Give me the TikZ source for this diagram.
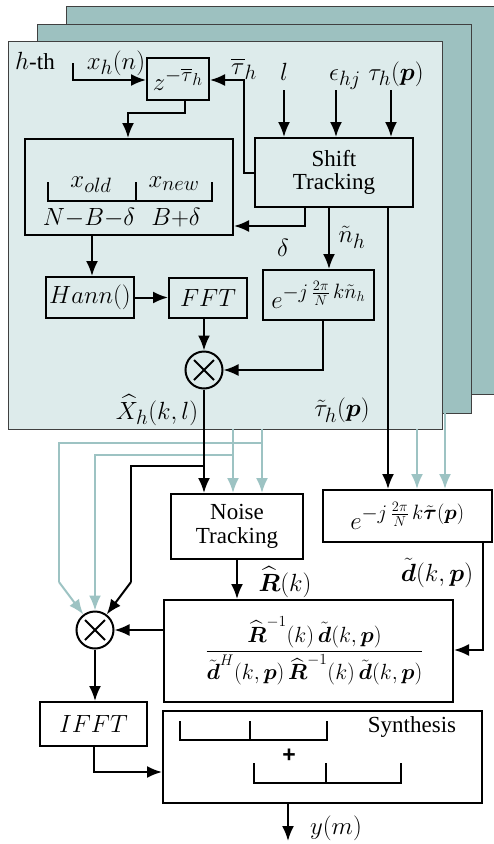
\RequirePackage{fix-cm}
\documentclass[tikz,border=0pt]{standalone}
\usepackage{amsmath,amssymb}
\usepackage[no-math]{fontspec}
\setmainfont{Liberation Serif}
\newfontfamily\plusfont{Liberation Sans}
\usetikzlibrary{arrows.meta,calc}
\definecolor{frontc}{HTML}{DDEBEB}
\definecolor{tealc}{HTML}{9DC1C0}
\definecolor{litec}{HTML}{9DC3C3}
\newcommand{\expo}[1]{\mbox{\fontsize{20.74}{21}\selectfont$#1$}}
\begin{document}
\begin{tikzpicture}[x=1pt,y=-1pt,
  font=\fontsize{24.88}{25}\selectfont,
  txt/.style={font=\fontsize{23}{23.5}\selectfont},
  blk/.style={draw, line width=2pt, inner sep=0pt, align=center},
  mult/.style={draw, circle, line width=2pt, minimum size=37pt, inner sep=0pt},
  arr/.style={line width=2pt, -{Latex[length=15pt,width=12pt]}},
  larr/.style={draw=litec, line width=2pt, -{Latex[length=15pt,width=12pt]}},
  ln/.style={line width=2pt},
  lln/.style={draw=litec, line width=2pt},
  panel/.style={draw=black!75, line width=1pt},
  lbl/.style={inner sep=0pt, anchor=base}]
\useasboundingbox (0,0) rectangle (494,844);
% panels
\draw[panel, fill=tealc] (66,6) rectangle (500,394);
\draw[panel, fill=tealc] (37,24) rectangle (471,413);
\draw[panel, fill=frontc] (8,41) rectangle (442,429);

% boxes
\node[blk, minimum width=62pt, minimum height=42pt] (z) at (178,79) {$z^{-\overline{\tau}_h}$};
\node[blk, minimum width=208pt, minimum height=96pt] (buf) at (129,187) {};
\node[blk, txt, minimum width=158pt, minimum height=69pt] (shift) at (334,172.5) {Shift\\Tracking};
\node[blk, minimum width=111pt, minimum height=50pt] (exp) at (318.5,295) {$e^{\expo{-j\,\frac{2\pi}{N}\,k\tilde{n}_h}}$};
\node[blk, minimum width=88pt, minimum height=41pt] (hann) at (90,297.5) {$Hann()$};
\node[blk, minimum width=78pt, minimum height=40pt] (fft) at (208,297.5) {$FFT$};
\node[mult] (x1) at (204,370) {};
\draw[ln] ($(x1)+(-10,-10)$) -- ($(x1)+(10,10)$) ($(x1)+(-10,10)$) -- ($(x1)+(10,-10)$);
\node[blk, txt, minimum width=132pt, minimum height=65pt] (noise) at (237,526.5) {Noise\\Tracking};
\node[blk, minimum width=169pt, minimum height=52pt] (tau) at (407.5,516) {$e^{\expo{-j\,\frac{2\pi}{N}\,k\tilde{\boldsymbol{\tau}}(\boldsymbol{p})}}$};
\node[blk, font=\fontsize{22}{23}\selectfont, minimum width=289pt, minimum height=102pt] (big) at (308.5,651) {\hspace*{12pt}$\dfrac{\widehat{\boldsymbol{R}}^{-1}(k)\,\tilde{\boldsymbol{d}}(k,\boldsymbol{p})}{\tilde{\boldsymbol{d}}^{H}(k,\boldsymbol{p})\,\widehat{\boldsymbol{R}}^{-1}(k)\,\tilde{\boldsymbol{d}}(k,\boldsymbol{p})}$};
\node[mult] (x2) at (95,630) {};
\draw[ln] ($(x2)+(-10,-10)$) -- ($(x2)+(10,10)$) ($(x2)+(-10,10)$) -- ($(x2)+(10,-10)$);
\node[blk, minimum width=107pt, minimum height=44pt] (ifft) at (93.5,724) {$IFFT$};
\node[blk, minimum width=319pt, minimum height=92pt] (synth) at (322.5,757) {};

% labels
\node[lbl, anchor=base west] (hth) at (15,69) {$h$\fontsize{23}{24}\selectfont-th};
\node[lbl] (xin) at (116,69) {$x_h(n)$};
\node[lbl] (taubar) at (244,74) {$\overline{\tau}_h$};
\node[lbl] (lin) at (284,80) {$l$};
\node[lbl] (ein) at (345,80) {$\epsilon_{hj}$};
\node[lbl] (tin) at (396,80) {$\tau_h(\boldsymbol{p})$};
\node[lbl] (xold) at (91,187) {$x_{old}$};
\node[lbl] (xnew) at (174,187) {$x_{new}$};
\node[lbl] (nbd) at (89,225) {$N{-}B{-}\delta$};
\node[lbl] (bd) at (176,225) {$B{+}\delta$};
\node (dl) at (283,248) {$\delta$};
\node (nl) at (352,237) {$\tilde{n}_h$};
\node (xhat) at (157,410) {$\widehat{X}_h(k,l)$};
\node (tauh) at (342,410) {$\tilde{\tau}_h(\boldsymbol{p})$};
\node (rl) at (285,582) {$\widehat{\boldsymbol{R}}(k)$};
\node (dtl) at (437,573) {$\tilde{\boldsymbol{d}}(k,\boldsymbol{p})$};
\node[txt] (syl) at (412,727) {Synthesis};
\node[txt] (plus) at (289,756) {\plusfont\bfseries +};
\node (yl) at (336,828) {$y(m)$};

% buffer bracket
\draw[ln] (48,182) -- (48,201) -- (212,201) -- (212,182) (136,182) -- (136,201);
% synthesis brackets
\draw[ln] (180,721) -- (180,740) -- (327,740) -- (327,721) (250,721) -- (250,740);
\draw[ln] (254,763) -- (254,783) -- (401,783) -- (401,763) (326,763) -- (326,783);

% light connectors (other channels)
\draw[lln] (262,443) -| (59,582);
\draw[larr] (59,582) -- (x2);
\draw[larr] (233,455) -| (x2.north);
\draw[larr] (262,429) -- (262,0 |- noise.north);
\draw[larr] (233,429) -- (233,0 |- noise.north);
\draw[larr] (417,429) -- (417,0 |- tau.north);
\draw[larr] (445,413) -- (445,0 |- tau.north);

% black connectors
\coordinate (xs) at (73,63);
\draw[arr] (xs) |- (z.west |- 0,80);
\draw[arr] (185,0 |- z.south) |- (128,113) -- (128,0 |- buf.north);
\draw[arr] (shift.west |- 0,173) -| (244,80) -- (z.east |- 0,80);
\draw[arr] (lin.base |- 0,90) -- (lin.base |- shift.north);
\draw[arr] (336,90) -- (336,0 |- shift.north);
\draw[arr] (391,90) -- (391,0 |- shift.north);
\draw[arr] (305,0 |- shift.south) |- (buf.east |- 0,226);
\draw[arr] (329,0 |- shift.south) -- (329,0 |- exp.north);
\draw[arr] (388,0 |- shift.south) -- (388,0 |- tau.north);
\draw[arr] (323,0 |- exp.south) |- (x1);
\draw[arr] (92,0 |- buf.south) -- (92,0 |- hann.north);
\draw[arr] (hann) -- (fft);
\draw[arr] (x1 |- fft.south) -- (x1);
\draw[arr] (x1.south) -- (x1.south |- noise.north);
\draw[ln] (204,466) -| (131,582);
\draw[arr] (131,582) -- (x2);
\draw[arr] (noise.south) -- (noise.south |- big.north);
\draw[arr] (483,0 |- tau.south) |- (big.east |- 0,650);
\draw[arr] (big.west |- x2) -- (x2);
\draw[arr] (x2) -- (x2 |- ifft.north);
\draw[arr] (ifft.south) |- (synth.west |- 0,772);
\coordinate (yout) at (288,841);
\draw[arr] (288,0 |- synth.south) -- (yout);
\end{tikzpicture}
\end{document}
